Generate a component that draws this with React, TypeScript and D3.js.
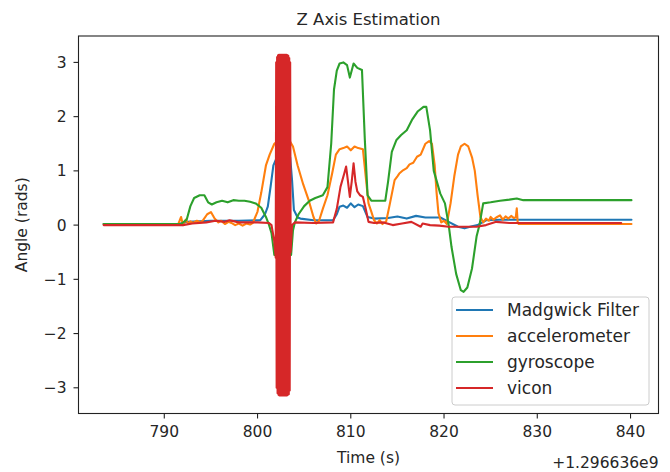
import React from "react";
import * as d3 from "d3";

const xTicks = [790, 800, 810, 820, 830, 840];
const yTicks = [-3, -2, -1, 0, 1, 2, 3];
const seriesNames = ["Madgwick Filter", "accelerometer", "gyroscope", "vicon"];
const seriesColors = ["#1f77b4", "#ff7f0e", "#2ca02c", "#d62728"];

// time offsets (s) from 1.296636e9
const madgwickT = [783.5, 791.5, 792.5, 795, 798, 800.3, 800.8, 801.1, 801.4, 801.7, 802.0, 802.4, 802.8, 803.2, 803.5, 803.7, 803.9, 804.3, 804.6, 806, 808.1, 808.5, 808.8, 809.2, 809.6, 810.0, 810.4, 810.8, 811.3, 811.8, 812.5, 814, 815, 816, 817, 818, 819.6, 820.5, 821.5, 822.2, 823, 823.6, 824.5, 826, 840.1];
const madgwickV = [0.02, 0.02, 0.06, 0.08, 0.08, 0.09, 0.2, 0.34, 0.71, 1.1, 1.22, 1.3, 1.25, 1.32, 1.25, 0.83, 0.28, 0.14, 0.12, 0.09, 0.09, 0.2, 0.34, 0.36, 0.32, 0.4, 0.33, 0.38, 0.35, 0.15, 0.12, 0.13, 0.16, 0.12, 0.17, 0.14, 0.14, 0.06, -0.03, -0.06, -0.02, 0.0, 0.09, 0.1, 0.1];

const accelT = [783.5, 791.5, 791.8, 792.0, 792.3, 792.6, 792.8, 793.1, 793.5, 793.9, 794.2, 794.6, 795.0, 795.4, 795.8, 796.1, 796.5, 796.9, 797.2, 797.6, 798, 798.4, 798.8, 799.2, 799.5, 800.0, 800.4, 800.9, 801.3, 801.8, 802.3, 803.4, 803.8, 804.3, 804.9, 805.5, 806.0, 806.3, 806.6, 807.0, 807.5, 808.0, 808.4, 808.8, 809.2, 809.6, 810.0, 810.4, 810.8, 811.3, 811.6, 811.9, 812.2, 812.5, 812.8, 813.1, 813.4, 813.8, 814.2, 814.7, 815.0, 815.2, 815.6, 816.0, 816.3, 816.7, 817.1, 817.5, 818.0, 818.4, 818.7, 819.0, 819.2, 819.4, 819.7, 820.0, 820.3, 820.7, 821.1, 821.5, 821.8, 822.2, 822.6, 823.0, 823.3, 823.6, 823.9, 824.2, 824.5, 824.8, 825, 825.3, 825.6, 826, 826.3, 826.6, 826.9, 827.2, 827.5, 827.7, 827.8, 827.9, 828, 840.1];
const accelV = [0.02, 0.02, 0.15, 0.0, 0.1, 0.02, 0.07, 0.04, 0.08, 0.05, 0.1, 0.2, 0.24, 0.12, 0.05, 0.08, 0.02, 0.06, 0.04, 0.0, 0.03, -0.01, 0.03, 0.01, 0.04, 0.25, 0.6, 1.1, 1.3, 1.5, 1.57, 1.57, 1.45, 1.1, 0.75, 0.45, 0.15, 0.03, 0.08, 0.3, 0.55, 0.95, 1.3, 1.4, 1.42, 1.45, 1.38, 1.45, 1.42, 1.4, 0.9, 0.4, 0.25, 0.09, 0.03, 0.09, 0.02, 0.07, 0.4, 0.83, 0.9, 0.95, 1.01, 1.05, 1.12, 1.15, 1.26, 1.3, 1.5, 1.55, 1.5, 1.1, 0.6, 0.22, 0.05, 0.08, 0.02, 0.4, 0.9, 1.3, 1.45, 1.5, 1.45, 1.25, 1.0, 0.55, 0.15, 0.05, 0.12, 0.08, 0.15, 0.1, 0.14, 0.18, 0.1, 0.16, 0.12, 0.17, 0.13, 0.15, 0.31, 0.05, 0.02, 0.02];

const gyroT = [783.5, 791.8, 792.4, 792.8, 793.2, 793.8, 794.3, 794.7, 795.1, 795.6, 796.2, 796.8, 797.4, 798, 798.6, 799.2, 799.8, 800.4, 800.9, 801.2, 801.5, 801.8, 803.6, 803.8, 804.0, 804.4, 805, 805.6, 806.2, 807, 807.5, 807.9, 808.2, 808.5, 808.8, 809.2, 809.6, 809.9, 810.3, 810.7, 811.2, 811.5, 811.8, 812.2, 813.7, 814.0, 814.4, 814.9, 815.4, 816.0, 816.6, 817.2, 817.8, 818.1, 818.5, 818.9, 819.6, 820.1, 820.5, 820.8, 821.3, 821.8, 822.1, 822.5, 823.0, 823.5, 823.8, 824.2, 825, 826, 827, 827.8, 828.5, 840.1];
const gyroV = [0.02, 0.02, 0.1, 0.35, 0.5, 0.55, 0.55, 0.42, 0.38, 0.42, 0.45, 0.42, 0.46, 0.45, 0.45, 0.43, 0.4, 0.32, 0.15, 0.02, -0.15, -0.55, -0.55, -0.1, 0.05, 0.2, 0.35, 0.45, 0.5, 0.55, 0.7, 1.5, 2.5, 2.85, 2.98, 3.0, 2.95, 2.72, 2.98, 2.9, 2.86, 1.6, 0.55, 0.45, 0.45, 0.8, 1.35, 1.57, 1.66, 1.75, 1.95, 2.1, 2.18, 2.18, 1.75, 1.0, 0.58, 0.4, 0.0, -0.4, -0.9, -1.2, -1.23, -1.15, -0.8, -0.2, 0.0, 0.4, 0.42, 0.45, 0.47, 0.49, 0.46, 0.46];

const viconT = [783.5, 792, 793, 794.5, 795.5, 796.5, 797, 798, 800, 801.2, 801.5, 801.8, 801.95,
  802.0, 802.05, 802.1, 802.15, 802.2, 802.25, 802.3, 802.35, 802.4, 802.45, 802.5, 802.55, 802.6, 802.65, 802.7, 802.75, 802.8, 802.85, 802.9, 802.95, 803.0, 803.05, 803.1, 803.15, 803.2, 803.25, 803.3, 803.35, 803.4, 803.45, 803.5,
  803.55, 803.7, 804, 806, 808.1, 808.5, 808.9, 809.3, 809.5, 809.7, 809.9, 810.1, 810.3, 810.5, 810.7, 811.0, 811.3, 811.6, 811.9, 812.5, 813.5, 814.5, 815.5, 816.5, 817.5, 817.7, 818.5, 819.5, 820.5, 822, 823.5, 824.5, 825.6, 827, 839];
const viconV = [0.0, 0.0, 0.03, 0.05, 0.08, 0.06, 0.09, 0.05, 0.05, 0.04, 0.0, -0.3, -0.6,
  3.0, -3.0, 3.1, -3.1, 3.13, -3.13, 3.14, -3.14, 3.14, -3.14, 3.14, -3.14, 3.14, -3.14, 3.14, -3.14, 3.14, -3.14, 3.14, -3.14, 3.14, -3.14, 3.14, -3.14, 3.13, -3.13, 3.12, -3.12, 3.08, -3.05, 3.0,
  -0.5, 0.0, 0.05, 0.04, 0.05, 0.3, 0.71, 0.95, 1.08, 0.8, 0.52, 0.8, 1.14, 0.8, 0.62, 0.55, 0.52, 0.3, 0.06, 0.04, 0.05, 0.0, 0.03, 0.06, -0.03, 0.03, 0.0, -0.01, -0.03, -0.03, -0.03, 0.0, 0.06, 0.04, 0.04];

const W = 670;
const H = 472;
const left = 78.5;
const right = 658.5;
const top = 36;
const bottom = 413.5;
const FONT = "'DejaVu Sans', sans-serif";
const TEXT = "#262626";

export default function App() {
  const x = d3.scaleLinear().domain([780.8, 843.0]).range([left, right]);
  const y = d3.scaleLinear().domain([-3.474, 3.487]).range([bottom, top]);
  const line = d3
    .line<[number, number]>()
    .x((d) => x(d[0]))
    .y((d) => y(d[1]));
  const series: [number[], number[]][] = [
    [madgwickT, madgwickV],
    [accelT, accelV],
    [gyroT, gyroV],
    [viconT, viconV],
  ];
  const legendX = 452;
  const legendY = 297;
  const legendRowY = [310, 336, 362, 388];

  return (
    <svg
      width={W}
      height={H}
      style={{ position: "absolute", left: 0, top: 0, background: "#fff" }}
      fontFamily={FONT}
    >
      <rect x={0} y={0} width={W} height={H} fill="#fff" />
      <defs>
        <clipPath id="plotclip">
          <rect x={left} y={top} width={right - left} height={bottom - top} />
        </clipPath>
      </defs>
      <g clipPath="url(#plotclip)">
        {series.map(([ts, vs], i) => (
          <path
            key={i}
            d={line(ts.map((t, j) => [t, vs[j]] as [number, number])) || ""}
            fill="none"
            stroke={seriesColors[i]}
            strokeWidth={2.1}
            strokeLinejoin="round"
            strokeLinecap="round"
          />
        ))}
      </g>
      <rect
        x={left}
        y={top}
        width={right - left}
        height={bottom - top}
        fill="none"
        stroke="#222"
        strokeWidth={1.1}
      />
      {xTicks.map((t) => (
        <g key={t}>
          <line x1={x(t)} x2={x(t)} y1={bottom} y2={bottom + 5} stroke="#222" strokeWidth={1.1} />
          <text x={x(t)} y={bottom + 23} textAnchor="middle" fontSize={15.5} fill={TEXT}>
            {t}
          </text>
        </g>
      ))}
      {yTicks.map((v) => (
        <g key={v}>
          <line x1={left - 5} x2={left} y1={y(v)} y2={y(v)} stroke="#222" strokeWidth={1.1} />
          <text x={left - 12} y={y(v) + 5.5} textAnchor="end" fontSize={15.5} fill={TEXT}>
            {v < 0 ? "\u2212" + Math.abs(v) : String(v)}
          </text>
        </g>
      ))}
      <text x={(left + right) / 2} y={25} textAnchor="middle" fontSize={16.5} fill={TEXT}>
        Z Axis Estimation
      </text>
      <text x={(left + right) / 2} y={463} textAnchor="middle" fontSize={15.5} fill={TEXT}>
        Time (s)
      </text>
      <text x={right} y={468} textAnchor="end" fontSize={15.5} fill={TEXT}>
        +1.296636e9
      </text>
      <text
        transform={`translate(27, ${(top + bottom) / 2}) rotate(-90)`}
        textAnchor="middle"
        fontSize={15.5}
        fill={TEXT}
      >
        Angle (rads)
      </text>
      <rect
        x={legendX}
        y={legendY}
        width={197}
        height={108}
        rx={3}
        fill="#fff"
        fillOpacity={0.8}
        stroke="#cccccc"
        strokeWidth={1}
      />
      {seriesNames.map((n, i) => (
        <g key={n}>
          <line
            x1={456}
            x2={493}
            y1={legendRowY[i]}
            y2={legendRowY[i]}
            stroke={seriesColors[i]}
            strokeWidth={2.1}
          />
          <text x={507} y={legendRowY[i] + 6} fontSize={17} fill={TEXT}>
            {n}
          </text>
        </g>
      ))}
    </svg>
  );
}
